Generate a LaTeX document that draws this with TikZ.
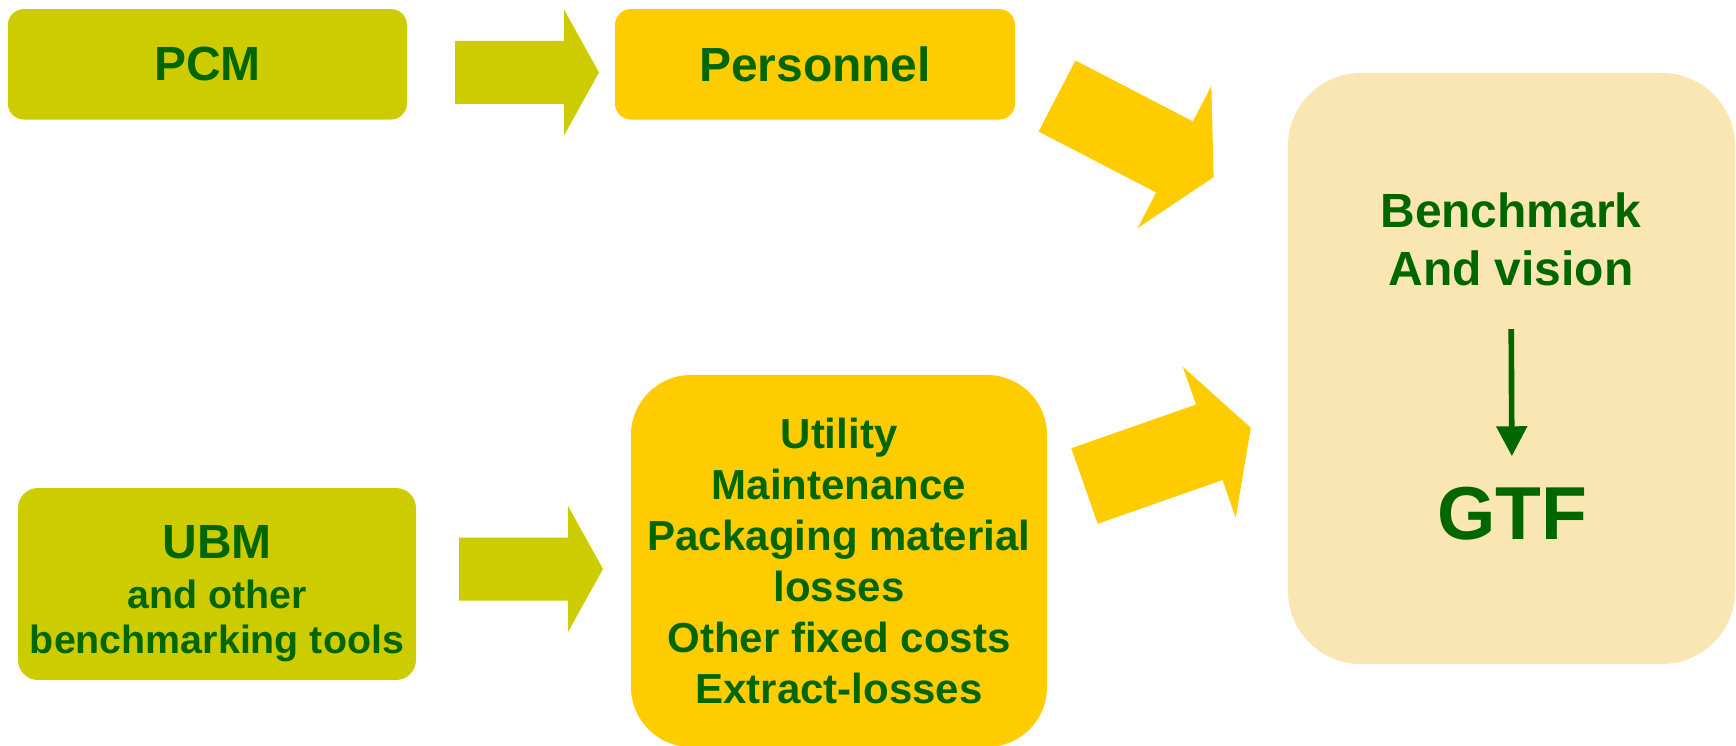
\documentclass[tikz,border=0pt]{standalone}
\usepackage{fontspec}
\setmainfont{Liberation Sans}
\usetikzlibrary{arrows.meta}

\definecolor{toololive}{RGB}{204,204,0}
\definecolor{costgold}{RGB}{255,204,0}
\definecolor{visioncream}{RGB}{250,230,178}
\definecolor{textgreen}{RGB}{0,102,0}

% fat block arrow: (tail)(angle:length:shaft half width:head half width:head length)
\def\blockarrow[#1](#2)(#3:#4:#5:#6:#7){%
	\begin{scope}[shift={(#2)},rotate=#3]
		\fill[#1] (0,-#5) -- ({#4-#7},-#5) -- ({#4-#7},-#6) -- (#4,0) -- ({#4-#7},#6) -- ({#4-#7},#5) -- (0,#5) -- cycle;
	\end{scope}}

\tikzset{
	tool/.style={fill=toololive, rounded corners=3.2mm, inner sep=0pt, align=center,
		text=textgreen, font=\bfseries\fontsize{27.3}{31}\selectfont},
	cost/.style={tool, fill=costgold},
	vision/.style={fill=visioncream, rounded corners=14.6mm, inner sep=0pt},
	visiontext/.style={inner sep=0pt, align=center, text=textgreen,
		font=\bfseries\fontsize{27.3}{33}\selectfont},
}

\begin{document}
\begin{tikzpicture}[x=0.2mm, y=-0.2mm]
		\useasboundingbox (0,0) rectangle (1736,746);
		
		%%%%% top row %%%%%
		\node[tool, minimum width=79.8mm, minimum height=22.1mm] (pcm) at (207.4,64.3) {PCM};
		\node[cost, minimum width=80mm, minimum height=22.1mm] (personnel) at (815,64.3) {Personnel};
		\blockarrow[toololive](455,72.5)(0:144:31.5:63:35)
		
		%%%%% bottom row %%%%%
		% the strut pushes the three lines a little lower in the box
		\node[tool, rounded corners=4mm, minimum width=79.6mm, minimum height=38.4mm,
			font=\bfseries\fontsize{22.4}{25.4}\selectfont] (ubm) at (217,584)
			{\rule{0pt}{30pt}{\fontsize{27.3}{31}\selectfont UBM}\\[3pt]and other\\benchmarking tools};
		\node[cost, rounded corners=12mm, minimum width=83.2mm, minimum height=74.4mm,
			font=\bfseries\fontsize{23.9}{29}\selectfont] (costs) at (839,561)
			{Utility\\Maintenance\\Packaging material\\losses\\Other fixed costs\\Extract-losses};
		\blockarrow[toololive](459,569)(0:144:31.5:63:35)
		
		%%%%% target %%%%%
		\node[vision, minimum width=89.4mm, minimum height=118.2mm] (target) at (1511.5,368.5) {};
		\node[visiontext] (bench) at (1511,239) {Benchmark\\And vision};
		\node[visiontext, font=\bfseries\fontsize{42.7}{48}\selectfont] (gtf) at (1512,514) {GTF};
		\draw[-{Triangle[width=17pt,length=17pt]}, line width=3.2pt, textgreen,
			shorten <=24.5pt, shorten >=17.6pt] (bench.south) -- (gtf.north);
		
		\blockarrow[costgold](1057,96)(-27.4:176.4:40:80:44)
		\blockarrow[costgold](1084.5,486)(19.3:176.2:40:80:44)
		
\end{tikzpicture}
\end{document}
